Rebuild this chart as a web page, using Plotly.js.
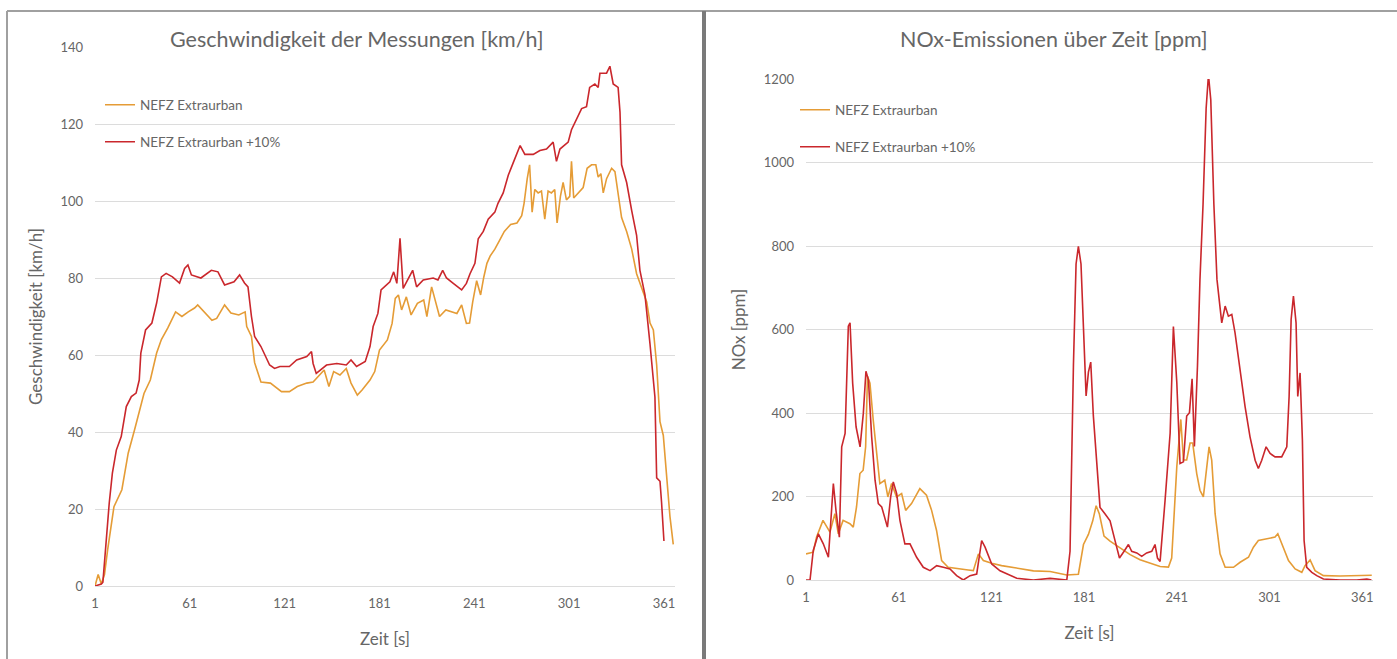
<!DOCTYPE html>
<html>
<head>
<meta charset="utf-8">
<script src="https://cdn.plot.ly/plotly-3.0.1.min.js"></script>
<style>html,body{margin:0;padding:0;background:#fff;}#chart{width:1397px;height:659px;}</style>
</head>
<body>
<div id="chart"></div>
<script>
// ---------- Data ----------
const seriesNames = ["NEFZ Extraurban", "NEFZ Extraurban +10%"];
const xTicks = [1, 61, 121, 181, 241, 301, 361];

// Speed chart [km/h] - NEFZ Extraurban
const speedTimeA = [1,3,5,7,9,13,18,22,26,32,36,40,43,47,52,56,60,64,66,70,75,78,83,87,92,96,97,100,102,106,112,119,124,129,135,139,146,149,152,156,160,163,167,170,175,178,181,186,189,191,193,195,198,201,205,209,211,214,217,219,223,230,233,236,238,240,242.5,245,247,249,251,254,257,260,264,268,271,272.5,274.5,276,277.6,279.3,281.4,283.5,285.6,287.7,289.8,291.9,293.4,295.5,297.2,299.3,301.4,302.5,303.9,306.7,309.9,312.4,315.2,317.9,319.4,321.1,322.6,324.7,327.9,330,332.1,334.2,337.4,340.6,343.7,346.9,350.1,352.2,354.3,356.4,358.5,360.6,362.7,364.8,366.9];
const speedA = [0,3,0.5,3,9.4,20.6,25,34.5,40.5,50,53.5,60.5,64,67,71.2,70,71.2,72.2,73,71.2,69,69.5,73,70.9,70.4,71.2,67.4,64.8,58,53,52.7,50.5,50.5,51.8,52.7,53,56.1,51.8,55.7,54.8,56.5,52.7,49.6,50.9,53.5,55.7,61.3,63.9,68.2,74.7,75.6,71.7,75.1,70.4,73.4,74.3,70,77.7,73,70,71.7,70.8,73,68.2,68.3,73.8,79.3,75.6,80.2,83.8,85.7,87.5,89.8,92.1,93.9,94.3,96.2,99.4,105.8,109.4,97.1,103,102.1,102.6,95.3,102.6,102.1,103,94.3,101.2,104.8,100.3,101.2,110.3,100.8,102.1,103.5,108.5,109.4,109.4,106.2,107.1,102.1,105.8,108.5,107.6,101.2,95.7,92.1,87.5,81.1,77.4,73.8,68.3,66.5,57.4,42.7,39.1,28.1,18.1,10.8];

// Speed chart [km/h] - NEFZ Extraurban +10%
const speedTimeB = [1,5,6,8,10,12,14.5,17.6,20.8,24,27,29,30,33,37,40,43,46,50,54.5,57.7,59.8,62,68,74.6,78.8,83,89,92.5,95.6,97.8,100,102,106,111.5,114.6,118,124,128.6,135,138,139,141,147.5,154,160,163,166.5,172,175,177,180,182,187.6,190,192,194,196,199,202,204.5,208.7,215,218,221,223.4,227.7,233,236,238.3,241.4,243.5,246.7,249.8,254,256,259.3,262.5,265.6,268.8,270,273,278.3,282.5,286.7,290.9,293,295.2,300.4,302.5,305.7,308.9,312,314,317.3,319.4,320.5,324.7,326.8,328.9,332,333.2,334.2,337.4,340.6,343.7,345.8,349,352.2,355.3,356.4,358.5,359.5,361];
const speedB = [0,0.5,1,12,21.5,29.3,35.3,38.8,46.6,49.2,50.1,53.5,60.5,66.5,68.3,73.5,80.3,81.2,80.3,78.7,82.5,83.4,80.8,80,82,81.6,78.2,79,80.8,78.7,77.7,70,64.8,62.2,57.4,56.5,57,57,58.7,59.6,60.9,57.8,55.2,57.4,57.8,57.4,58.7,57,58.3,62.2,67.4,70.8,76.9,79,81.6,78.6,90.3,77.3,79.5,82,77.7,79.5,80,79.5,82,80,78.6,76.9,78.6,81.1,83.8,90.2,92.1,95.3,97.1,99.4,102.1,106.7,109.9,113.1,114.4,112.1,112.1,113.1,113.5,115.3,110.3,113.5,115.3,118.5,121.3,124,124.5,129.5,130.4,129.5,133.2,133.2,135,130.4,129.5,123.1,109.4,104.8,97.5,91.1,82,75.6,62.8,49.1,28.1,27.2,21.7,11.7];

// NOx chart [ppm] - NEFZ Extraurban
const noxTimeA = [1,5.7,7.8,12,16.5,19.7,21.9,25,29.4,31.6,33.7,35.9,38,39.6,40.8,42.4,44.5,46.7,48.8,52,54,56.4,59.6,62.9,65.5,69.3,72.6,74.7,79,82.3,85.5,88.8,93,99.6,106,109.3,112.6,115.8,121.2,127.6,137.4,148.2,159,169.8,177.3,180.6,183.8,186.6,188.8,190.9,193.9,197.8,204.3,210.8,217.2,223.7,230.2,235.6,237.7,241,243.6,245.3,247.4,249.6,251.3,253.9,256,258.2,260.4,261.9,263.6,265.8,269,272.3,277.7,282,287.4,290.6,293.8,300.3,304.6,306.4,308.9,313.3,317.6,321.9,324,327.3,330.5,335.9,346.7,357.5,367.2];
const noxA = [62.6,66.6,102.7,142.8,114.7,158.8,110.7,142.8,134.8,126.7,174.9,255,263,319,487.7,471.6,383.4,303,231,239,199,231,199,207,166.8,183,207,219,203,166.8,118.7,46.5,30.5,26.5,24.1,22.5,62.6,46.5,40,34.5,28.3,21.9,20.2,12.1,13.8,85,109.3,141.7,178,158,105.3,93,77,60.7,48.6,40.5,32.4,30.8,52.6,271,384.6,287.4,287.4,328,328,255,215,199,271,319,287,158.8,62.6,30.5,30.5,42.5,54.5,78.6,94.6,98.7,102.7,110.7,86.6,46.5,26.5,18.4,34.5,48.1,22.5,10.4,9.6,9.6,11.2];

// NOx chart [ppm] - NEFZ Extraurban +10%
const noxTimeB = [1,3.6,5.7,9,12.2,15.5,18.7,20.4,22.6,24.1,26.3,28.4,29.5,31.2,33.4,36,38.1,39.8,41.4,43.5,45.7,47.8,50,53.7,55.8,57.5,59.7,61.8,65,68.3,72.6,76.9,81.3,85.6,89.9,94.2,98.5,102.8,107.2,111.5,114.7,116.9,121.2,126.6,137.4,148.2,159,169.8,171.9,174.1,175.8,177.3,179,180.6,182.3,183.8,185.3,187,189.2,191.3,194.6,197.8,201.1,203.9,206.9,209.7,211.8,215.1,218.3,221.5,224.8,226.9,228.5,230.2,233.4,236.7,238.8,241,243.1,245.3,247.4,249.2,250.9,252.4,254.4,256,258,260,261.5,263,265,267,270.1,272.3,274.4,276.6,278.7,282,285.2,288.4,291.7,293.8,296,298.8,301.4,304.6,308.9,312.2,313.7,315,316.5,318.2,319.3,320.8,322.3,323.4,325.1,328.4,331.6,335.9,346.7,357.5,364,367];
const noxB = [0,0,70.6,110.7,86.6,54.5,231,166.8,102.7,319,351,608,616,471.6,367,319,399,500,479.6,343,239,183,175,126.7,199,235,207,143,86.6,86.6,54.5,30.5,22.5,34.5,30.5,26.5,10.4,0,10.4,14.4,94.6,78.6,38.5,22,4,0,4,0,68.8,514,757,799,757,595,441,498,522,393,271,174,158,141.7,93,52.6,68.8,85,68.8,64.8,56.7,64.8,68.8,85,52.6,44.5,190,352,607,473.7,279,283,392.7,400.8,481.8,319.8,514,720,900,1130,1210,1150,900,720,616,656,632,636,592,496,415.5,343,287,267,287,319,303,295,295,319,439.6,624,680,616,439.6,496,335,94.6,30.5,18.4,10.4,2.4,0,0,2.4,0];

// ---------- Styling ----------
const ORANGE = '#E59C36';
const RED = '#CA272C';
const TXT = '#666666';
const GRID = '#DCDCDC';
const FONT = 'Lato, "Open Sans", sans-serif';
const W = 1397, H = 659;
const px = v => v / W;
const py = v => 1 - v / H;

const traces = [
  {x: speedTimeA, y: speedA, name: seriesNames[0], type: 'scatter', mode: 'lines', xaxis: 'x', yaxis: 'y', line: {color: ORANGE, width: 1.6}, legend: 'legend'},
  {x: speedTimeB, y: speedB, name: seriesNames[1], type: 'scatter', mode: 'lines', xaxis: 'x', yaxis: 'y', line: {color: RED, width: 1.6}, legend: 'legend2'},
  {x: noxTimeA, y: noxA, name: seriesNames[0], type: 'scatter', mode: 'lines', xaxis: 'x2', yaxis: 'y2', line: {color: ORANGE, width: 1.6}, legend: 'legend3'},
  {x: noxTimeB, y: noxB, name: seriesNames[1], type: 'scatter', mode: 'lines', xaxis: 'x2', yaxis: 'y2', line: {color: RED, width: 1.6}, legend: 'legend4'}
];

const tickFont = {family: FONT, size: 13, color: TXT};
const axTitleFont = {family: FONT, size: 17, color: TXT};

function xAxis(domain) {
  return {
    domain: domain, range: [1, 368], tickmode: 'array', tickvals: xTicks,
    showgrid: false, zeroline: false, showline: false, ticks: '',
    tickfont: tickFont, ticklabelstandoff: 8,
    title: {text: 'Zeit [s]', font: axTitleFont, standoff: 23}
  };
}
function yAxis(domain, range, dtick, title, anchor) {
  return {
    domain: domain, range: range, dtick: dtick, tick0: 0,
    showgrid: true, gridcolor: GRID, gridwidth: 1,
    zeroline: true, zerolinecolor: GRID, zerolinewidth: 1,
    showline: false, ticks: '', tickfont: tickFont, ticklabelstandoff: 11,
    anchor: anchor,
    title: {text: title, font: axTitleFont, standoff: 13}
  };
}

function legendAt(xp, yp) {
  return {x: px(xp), y: py(yp), xanchor: 'left', yanchor: 'middle', bgcolor: 'rgba(0,0,0,0)', borderwidth: 0,
          font: {family: FONT, size: 13.5, color: TXT}, itemclick: false};
}

const layout = {
  width: W, height: H,
  margin: {l: 0, r: 0, t: 0, b: 0},
  paper_bgcolor: '#FFFFFF', plot_bgcolor: '#FFFFFF',
  font: {family: FONT, color: TXT},
  showlegend: true,
  xaxis: Object.assign(xAxis([px(95), px(675)]), {anchor: 'y'}),
  yaxis: yAxis([py(586), py(47)], [0, 140], 20, 'Geschwindigkeit [km/h]', 'x'),
  xaxis2: Object.assign(xAxis([px(806), px(1373)]), {anchor: 'y2'}),
  yaxis2: yAxis([py(580), py(79)], [0, 1200], 200, 'NOx [ppm]', 'x2'),
  legend: legendAt(100, 105),
  legend2: legendAt(100, 142),
  legend3: legendAt(795, 110),
  legend4: legendAt(795, 147),
  annotations: [
    {text: 'Geschwindigkeit der Messungen [km/h]', xref: 'paper', yref: 'paper', x: px(356), y: py(39), xanchor: 'center', yanchor: 'middle', showarrow: false, font: {family: FONT, size: 21.5, color: TXT}},
    {text: 'NOx-Emissionen über Zeit [ppm]', xref: 'paper', yref: 'paper', x: px(1054), y: py(39), xanchor: 'center', yanchor: 'middle', showarrow: false, font: {family: FONT, size: 21.5, color: TXT}}
  ],
  shapes: [
    {type: 'line', xref: 'paper', yref: 'paper', x0: px(7), x1: 1, y0: py(11), y1: py(11), line: {color: '#A0A0A0', width: 2}},
    {type: 'line', xref: 'paper', yref: 'paper', x0: px(7), x1: px(7), y0: py(11), y1: 0, line: {color: '#A0A0A0', width: 2}},
    {type: 'line', xref: 'paper', yref: 'paper', x0: px(704), x1: px(704), y0: py(11), y1: 0, line: {color: '#7A7A7A', width: 4}}
  ]
};

Plotly.newPlot('chart', traces, layout, {displayModeBar: false, staticPlot: true});
</script>
</body>
</html>
